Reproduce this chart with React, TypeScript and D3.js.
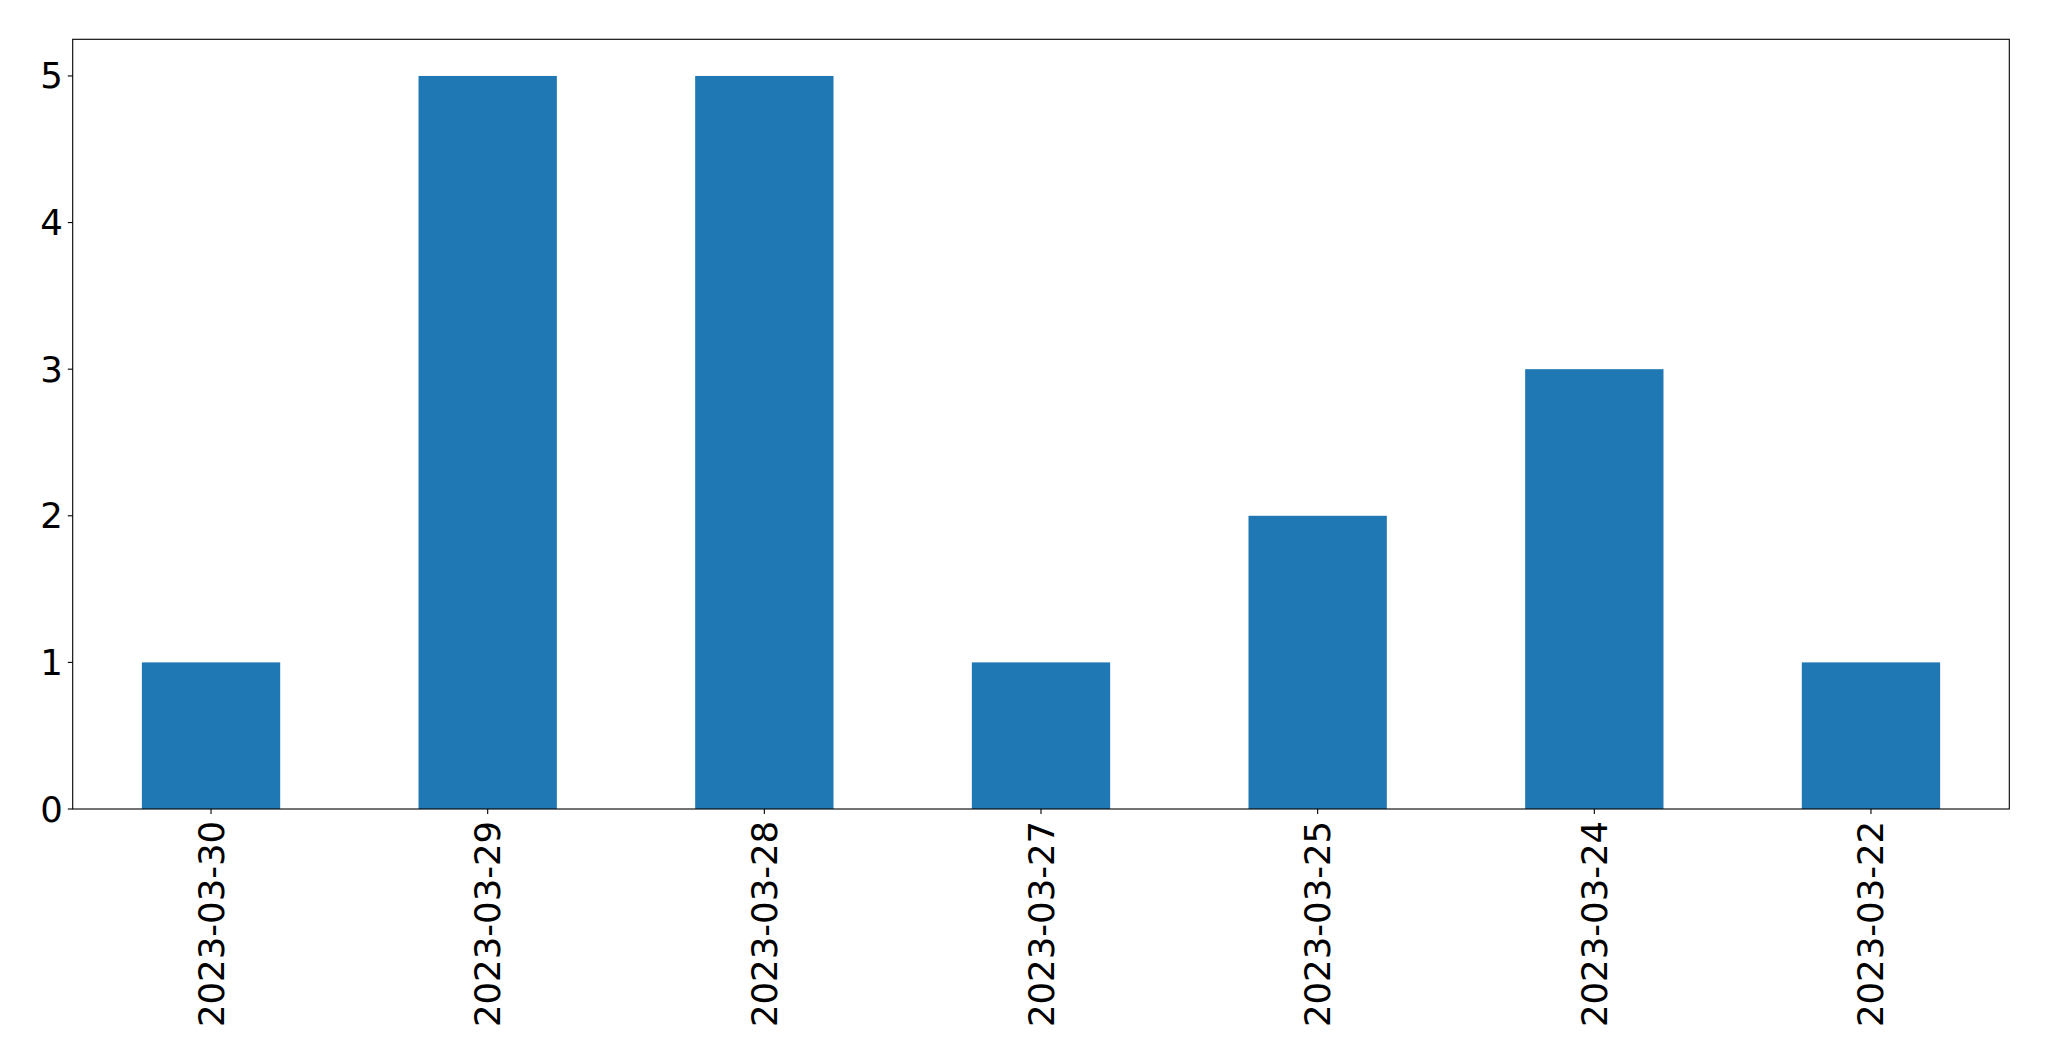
import React from "react";
import * as d3 from "d3";

const categories = ["2023-03-30", "2023-03-29", "2023-03-28", "2023-03-27", "2023-03-25", "2023-03-24", "2023-03-22"];
const counts = [1, 5, 5, 1, 2, 3, 1];
const yTicks = [0, 1, 2, 3, 4, 5];

const W = 2049;
const H = 1061;
const left = 72.7;
const right = 2009.3;
const top = 39.3;
const bottom = 809;
const fontSize = 35.5;
const tickLen = 4.9;
const pad = 4.9;

export default function App() {
  const x = d3.scaleBand<string>().domain(categories).range([left, right]).paddingInner(0.5).paddingOuter(0.25);
  const y = d3.scaleLinear().domain([0, 5.25]).range([bottom, top]);
  const font = "'DejaVu Sans', sans-serif";
  return (
    <div style={{ position: "absolute", left: 0, top: 0 }}>
      <svg width={W} height={H} style={{ display: "block", background: "#fff" }}>
        {categories.map((c, i) => (
          <rect key={c} x={x(c)} y={y(counts[i])} width={x.bandwidth()} height={y(0) - y(counts[i])} fill="#1f77b4" />
        ))}
        <rect x={left} y={top} width={right - left} height={bottom - top} fill="none" stroke="#000" strokeWidth={1.1} />
        {yTicks.map((t) => (
          <g key={t}>
            <line x1={left - tickLen} x2={left} y1={y(t)} y2={y(t)} stroke="#000" strokeWidth={1.1} />
            <text x={left - tickLen - pad} y={y(t)} textAnchor="end" dominantBaseline="central" fontFamily={font} fontSize={fontSize} fill="#000">{t}</text>
          </g>
        ))}
        {categories.map((c) => {
          const cx = (x(c) as number) + x.bandwidth() / 2;
          const ty = bottom + tickLen + pad + 2;
          return (
            <g key={c}>
              <line x1={cx} x2={cx} y1={bottom} y2={bottom + tickLen} stroke="#000" strokeWidth={1.1} />
              <text transform={`translate(${cx},${ty}) rotate(-90)`} textAnchor="end" dominantBaseline="central" fontFamily={font} fontSize={fontSize} fill="#000">{c}</text>
            </g>
          );
        })}
      </svg>
    </div>
  );
}
